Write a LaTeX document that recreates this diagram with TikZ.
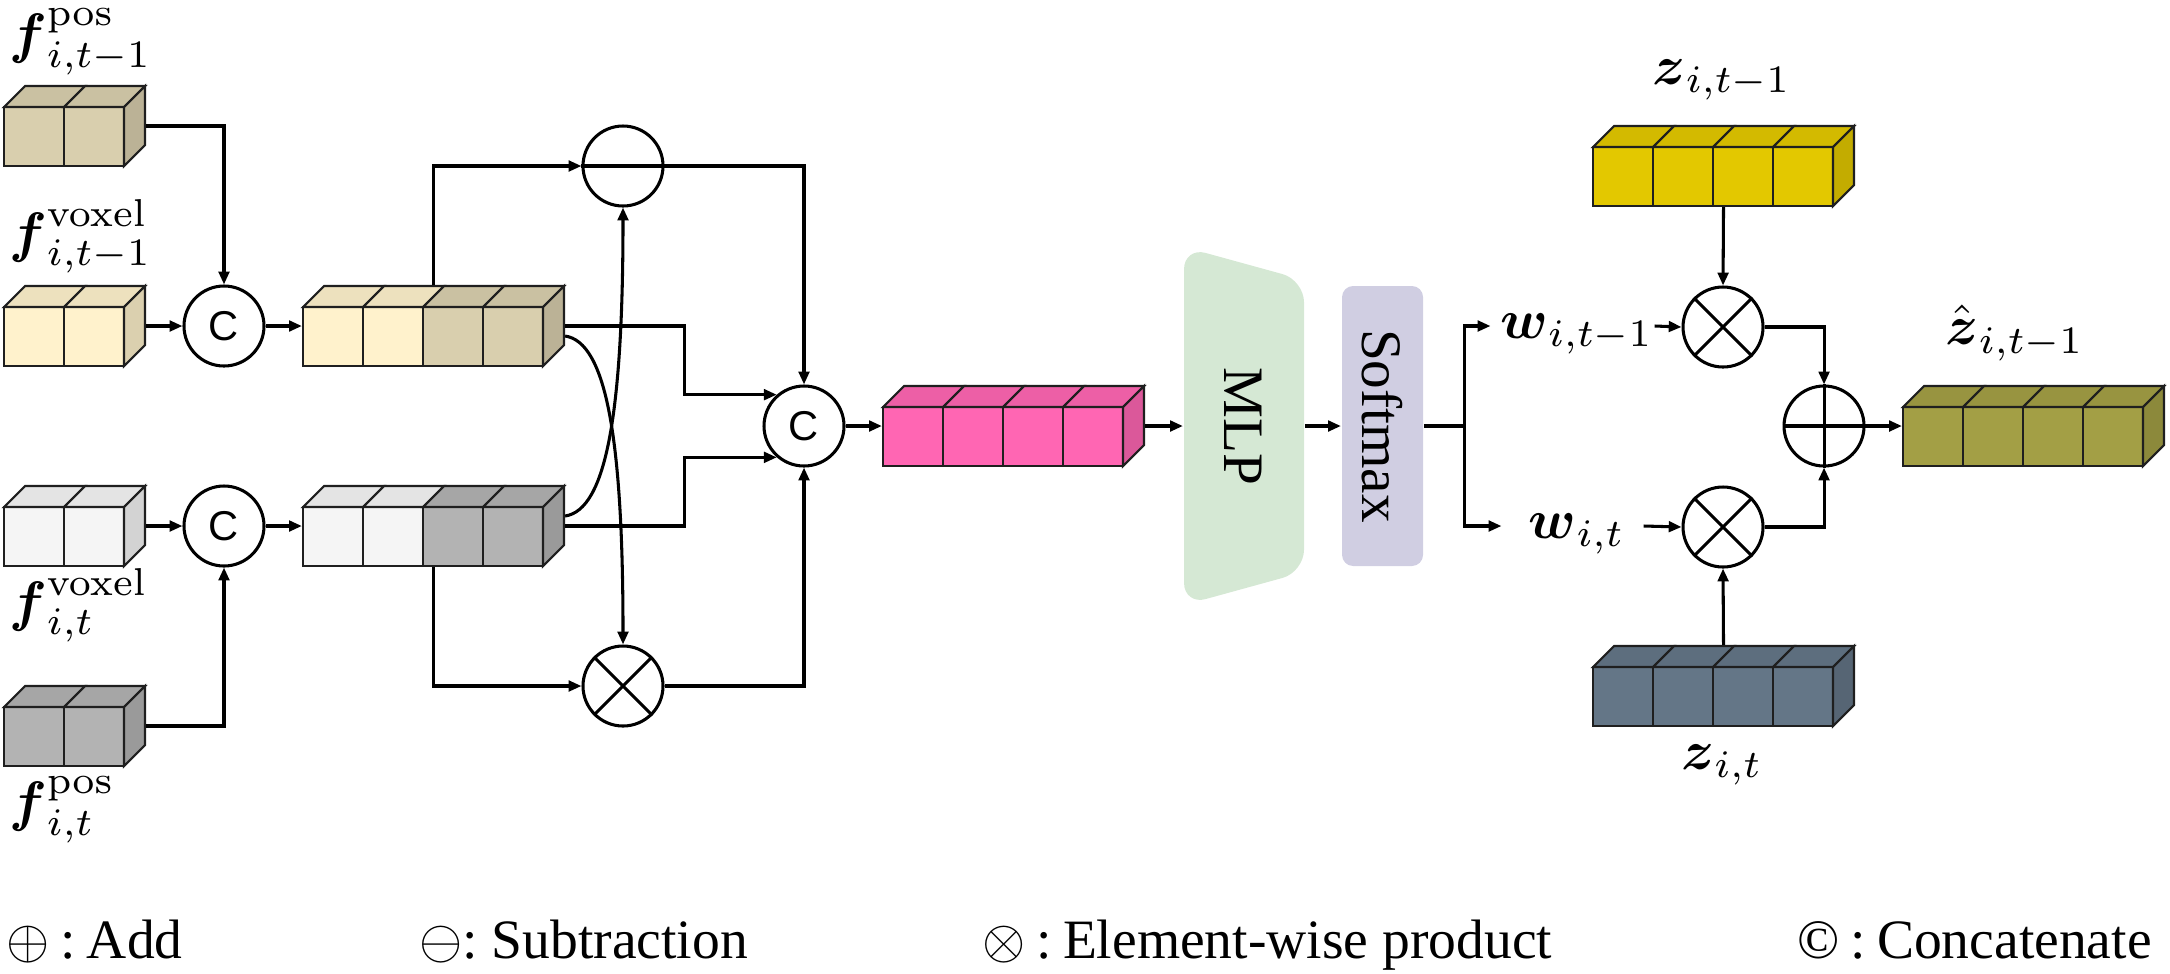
\documentclass[tikz,border=0pt]{standalone}
\usepackage{amsmath}
\usepackage[no-math]{fontspec}
\setmainfont{Liberation Serif}
\newfontfamily\arialfont{Liberation Sans}
\usetikzlibrary{arrows.meta,fit}
\definecolor{cY}{HTML}{FFF2CC}
\definecolor{cT}{HTML}{D9CFAE}
\definecolor{cG}{HTML}{F5F5F5}
\definecolor{cD}{HTML}{B3B3B3}
\definecolor{cP}{HTML}{FF66B3}
\definecolor{cZ}{HTML}{E3C800}
\definecolor{cS}{HTML}{647687}
\definecolor{cO}{HTML}{A39F45}
\definecolor{mlpc}{HTML}{D5E8D4}
\definecolor{smxc}{HTML}{D0CEE2}
% name, x0, y0 (front top-left), cell width, n cells, colours, side colour
\newcommand\cubebox[7]{%
  \foreach \c [count=\i from 0] in {#6} {
    \filldraw[cubeline, fill=\c] ({#2+\i*#4},#3) rectangle ({#2+(\i+1)*#4},{#3+59});
    \filldraw[cubeline, fill=\c!93!black] ({#2+\i*#4},#3) -- ++(21,-21) -- ++(#4,0) -- ++(-21,21) -- cycle;
  }
  \filldraw[cubeline, fill=#7!86!black] ({#2+#5*#4},#3) -- ++(21,-21) -- ++(0,59) -- ++(-21,21) -- cycle;
  \node[fit={({#2},{#3-21}) ({#2+#5*#4+21},{#3+59})}, inner sep=0, draw=none] (#1) {};
}
\begin{document}
\begin{tikzpicture}[x=0.18pt, y=-0.18pt,
  cubeline/.style={draw=black!88, line width=0.38pt},
  conn/.style={line width=0.55pt, -{Triangle[length=2.3pt,width=1.9pt]}},
  wire/.style={line width=0.55pt},
  opc/.style={circle, draw, line width=0.55pt, minimum size=14.4pt, inner sep=0, fill=white,
    font=\arialfont\fontsize{7.5}{9}\selectfont},
  mlbl/.style={inner sep=0, font=\fontsize{9.8}{12}\selectfont},
  wlbl/.style={inner sep=0, minimum width=23.6pt, text height=5pt, text depth=0.6pt, font=\fontsize{9.8}{12}\selectfont},
  lgd/.style={inner sep=0, anchor=base west, font=\fontsize{10}{12}\selectfont},
  rtxt/.style={inner sep=0, rotate=-90, font=\fontsize{10.3}{12}\selectfont}]
\useasboundingbox (0,0) rectangle (2170,973);

% feature boxes
\cubebox{b1}{4}{107}{60}{2}{cT,cT}{cT}
\cubebox{b2}{4}{307}{60}{2}{cY,cY}{cY}
\cubebox{b3}{4}{507}{60}{2}{cG,cG}{cG}
\cubebox{b4}{4}{707}{60}{2}{cD,cD}{cD}
\cubebox{ct}{303}{307}{60}{4}{cY,cY,cT,cT}{cT}
\cubebox{cb}{303}{507}{60}{4}{cG,cG,cD,cD}{cD}
\cubebox{pk}{883}{407}{60}{4}{cP,cP,cP,cP}{cP}
\cubebox{zt}{1593}{147}{60}{4}{cZ,cZ,cZ,cZ}{cZ}
\cubebox{zb}{1593}{667}{60}{4}{cS,cS,cS,cS}{cS}
\cubebox{hz}{1903}{407}{60}{4}{cO,cO,cO,cO}{cO}

% labels
\node[mlbl, anchor=west] (lf1) at (8,42) {$\boldsymbol{f}^{\mathrm{pos}}_{i,t-1}$};
\node[mlbl, anchor=west] (lf2) at (8,236) {$\boldsymbol{f}^{\mathrm{voxel}}_{i,t-1}$};
\node[mlbl, anchor=west] (lf3) at (8,605) {$\boldsymbol{f}^{\mathrm{voxel}}_{i,t}$};
\node[mlbl, anchor=west] (lf4) at (8,810) {$\boldsymbol{f}^{\mathrm{pos}}_{i,t}$};
\node[mlbl] (lzt) at (1722,80) {$\boldsymbol{z}_{i,t-1}$};
\node[mlbl] (lzb) at (1722,765) {$\boldsymbol{z}_{i,t}$};
\node[mlbl] (lhz) at (2015,333) {$\hat{\boldsymbol{z}}_{i,t-1}$};

% operators
\node[opc] (c1) at (224,326) {C};
\node[opc] (c2) at (224,526) {C};
\node[opc] (bc) at (804,426) {C};
\node[opc] (sub) at (623,166) {};
\draw[wire] (sub.west) -- (sub.east);
\node[opc] (m1) at (623,686) {};
\draw[wire] (m1.north west) -- (m1.south east) (m1.north east) -- (m1.south west);
\node[opc] (m2) at (1723,327) {};
\draw[wire] (m2.north west) -- (m2.south east) (m2.north east) -- (m2.south west);
\node[opc] (m3) at (1723,527) {};
\draw[wire] (m3.north west) -- (m3.south east) (m3.north east) -- (m3.south west);
\node[opc] (add) at (1824,426) {};
\draw[wire] (add.west) -- (add.east) (add.north) -- (add.south);

% MLP and Softmax
\fill[mlpc, rounded corners=4pt] (1184,247) -- (1304,280) -- (1304,572) -- (1184,605) -- cycle;
\node[fit={(1184,247) (1304,605)}, inner sep=0] (mlp) {};
\node[rtxt] (mlpt) at (1243,426) {MLP};
\node[fill=smxc, rounded corners=2pt, fit={(1342,286) (1423,566)}, inner sep=0] (smx) {};
\node[rtxt] (smxt) at (smx.center) {Softmax};

% weights
\node[wlbl] (wt1) at (1577,326) {$\boldsymbol{w}_{i,t-1}$};
\node[wlbl] (wt) at (1577,526) {$\boldsymbol{w}_{i,t}$};

% connectors, left part
\draw[conn] (b1.east) -| (c1.north);
\draw[conn] (b2.east) -- (c1.west);
\draw[conn] (c1.east) -- (ct.west);
\draw[conn] (b3.east) -- (c2.west);
\draw[conn] (b4.east) -| (c2.south);
\draw[conn] (c2.east) -- (cb.west);
\draw[conn] (ct.north) |- (sub.west);
\draw[conn] (cb.south) |- (m1.west);
\draw[conn] (sub.east) -| (bc.north);
\draw[conn] (m1.east) -| (bc.south);
\draw[conn] (ct.east) -- ++(119,0) |- (bc.131);
\draw[conn] (cb.east) -- ++(119,0) |- (bc.229);
\draw[conn] ([yshift=-1.8pt]ct.east) .. controls +(41,6) and +(0,-206) .. (m1.north);
\draw[conn] ([yshift=1.8pt]cb.east) .. controls +(41,-6) and +(0,206) .. (sub.south);

% middle
\draw[conn] (bc.east) -- (pk.west);
\draw[conn] (pk.east) -- (mlp.west);
\draw[conn] (mlp.east) -- (smx.west);
\draw[wire] (smx.east) -- ++(40,0) coordinate (split);
\draw[conn, shorten >=1.6pt] (split) |- (wt1.west);
\draw[conn, shorten >=1.6pt] (split) |- (wt.west);

% right part
\draw[conn] (wt1.east) -- (m2.west);
\draw[conn] (wt.east) -- (m3.west);
\draw[conn] (zt.south) -- (m2.north);
\draw[conn] (zb.north) -- (m3.south);
\draw[conn] (m2.east) -| (add.north);
\draw[conn] (m3.east) -| (add.south);
\draw[conn] (add.east) -- (hz.west);

% legend
\node[lgd] (lg1) at (5,958) {$\oplus$\hspace{2pt}:\hspace{2pt}Add};
\node[lgd] (lg2) at (418,958) {$\ominus$:\hspace{2.5pt}Subtraction};
\node[lgd] (lg3) at (981,958) {$\otimes$\hspace{2pt}:\hspace{2pt}Element-wise product};
\node[lgd] (lg4) at (1796,958) {©\hspace{2pt}:\hspace{2pt}Concatenate};
\end{tikzpicture}
\end{document}
